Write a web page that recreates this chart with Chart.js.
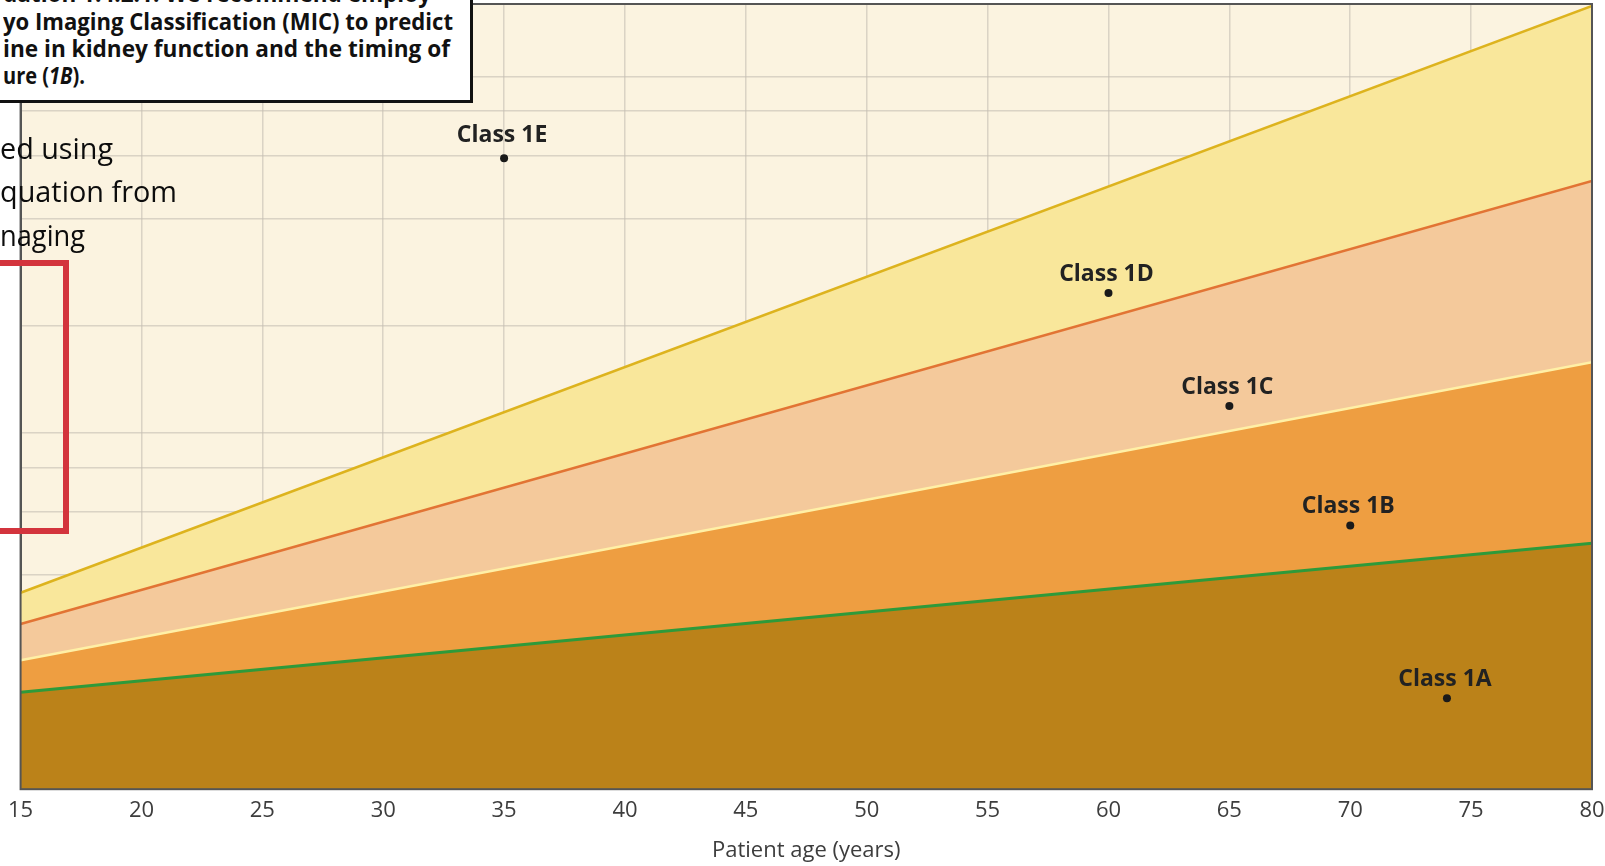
<!DOCTYPE html>
<html>
<head>
<meta charset="utf-8">
<script src="https://cdn.jsdelivr.net/npm/chart.js@4.4.1/dist/chart.umd.min.js"></script>
<style>
  body { margin: 0; background: #fff; overflow: hidden; }
  #wrap { position: relative; width: 1605px; height: 866px; overflow: hidden; }
  #chart { position: absolute; left: 0; top: 0; }
  .rec-box {
    position: absolute; left: -4px; top: -4px; width: 477px; height: 107px;
    background: #fff; border: 3px solid #111; box-sizing: border-box; overflow: hidden;
  }
  .rec-line {
    position: absolute; left: 4px; white-space: nowrap; transform-origin: 0 0;
    font-family: "Open Sans", sans-serif; font-weight: 700; font-size: 23.5px; line-height: 27px; color: #111;
  }
  .slide-line {
    position: absolute; left: 0; white-space: nowrap; transform-origin: 0 0;
    font-family: "Open Sans", sans-serif; font-size: 30px; line-height: 44px; color: #0c0c0c;
  }
  .red-frame {
    position: absolute; left: -10px; top: 260px; width: 79px; height: 274px;
    border: 6px solid #d3343d; box-sizing: border-box;
  }
</style>
</head>
<body>
<div id="wrap">
  <canvas id="chart" width="1625" height="866"></canvas>

  <div class="rec-box">
    <div class="rec-line" style="top:-19px" data-w="428">dation 1.4.2.1: We recommend employ</div>
    <div class="rec-line" style="top:9px" data-w="450">yo Imaging Classification (MIC) to predict</div>
    <div class="rec-line" style="top:36px" data-w="447">ine in kidney function and the timing of</div>
    <div class="rec-line" style="top:63px" data-w="82">ure (<i>1B</i>).</div>
  </div>

  <div class="slide-line" style="top:126px" data-w="113">ed using</div>
  <div class="slide-line" style="top:169px" data-w="177">quation from</div>
  <div class="slide-line" style="top:213px" data-w="85">naging</div>

  <div class="red-frame"></div>
</div>

<script>
// age range of the boundary lines
const ages = [15, 80];
// ht-TKV (mL/m) at age 15 and 80 for each class boundary
const limit1A = [187, 490];
const limit1B = [230, 1580];
const limit1C = [291, 5100];
const limit1D = [356, 15800];

const classNames = ['Class 1E', 'Class 1D', 'Class 1C', 'Class 1B', 'Class 1A'];
const classAges = [35, 60, 65, 70, 74];
const classTkv = [5900, 2470, 1190, 550, 180];

const ageTicks = [15, 20, 25, 30, 35, 40, 45, 50, 55, 60, 65, 70, 75, 80];
const tkvGrid = [100, 200, 400, 600, 800, 1000, 2000, 4000, 6000, 8000, 10000];

function toPoints(vals) {
  return ages.map((a, i) => ({ x: a, y: vals[i] }));
}

const plotBackground = {
  id: 'plotBackground',
  beforeDraw(chart) {
    const { ctx, chartArea: a } = chart;
    ctx.save();
    ctx.fillStyle = '#fbf3e0';
    ctx.fillRect(a.left, a.top, a.right - a.left, a.bottom - a.top);
    ctx.restore();
  },
  afterDraw(chart) {
    const { ctx, chartArea: a } = chart;
    ctx.save();
    ctx.strokeStyle = '#555';
    ctx.lineWidth = 2;
    ctx.strokeRect(a.left, a.top, a.right - a.left, a.bottom - a.top);
    ctx.restore();
  }
};

// how far each label's baseline sits above its dot
const labelLift = [16, 12, 12, 12, 12];

const classLabels = {
  id: 'classLabels',
  afterDraw(chart) {
    const { ctx } = chart;
    const meta = chart.getDatasetMeta(4);
    ctx.save();
    ctx.font = 'bold 23px "Open Sans", sans-serif';
    ctx.fillStyle = '#222';
    ctx.textAlign = 'center';
    ctx.textBaseline = 'alphabetic';
    meta.data.forEach((pt, i) => {
      ctx.fillText(classNames[i], pt.x - 2, pt.y - labelLift[i]);
    });
    ctx.restore();
  }
};

const ctx = document.getElementById('chart').getContext('2d');
new Chart(ctx, {
  type: 'line',
  data: {
    datasets: [
      { data: toPoints(limit1A), borderColor: '#2e9a3a', borderWidth: 3, backgroundColor: '#bb8219', fill: 'start', pointRadius: 0 },
      { data: toPoints(limit1B), borderColor: '#fff0a6', borderWidth: 2.5, backgroundColor: '#ee9e41', fill: '-1', pointRadius: 0 },
      { data: toPoints(limit1C), borderColor: '#e27434', borderWidth: 2.5, backgroundColor: '#f4c99b', fill: '-1', pointRadius: 0 },
      { data: toPoints(limit1D), borderColor: '#ddb31e', borderWidth: 2.5, backgroundColor: '#f9e79b', fill: '-1', pointRadius: 0 },
      {
        data: classAges.map((a, i) => ({ x: a, y: classTkv[i] })),
        order: -1, showLine: false, fill: false,
        pointRadius: 4, pointBackgroundColor: '#1a1a1a', pointBorderWidth: 0
      }
    ]
  },
  options: {
    responsive: false,
    animation: false,
    devicePixelRatio: 1,
    layout: { padding: { left: 20, right: 33, top: 4, bottom: 0 } },
    plugins: { legend: { display: false }, tooltip: { enabled: false } },
    scales: {
      x: {
        type: 'linear', min: 15, max: 80, z: 1,
        afterBuildTicks: scale => { scale.ticks = ageTicks.map(v => ({ value: v })); },
        grid: { color: 'rgba(196,190,178,0.6)', lineWidth: 1.5, drawTicks: false },
        border: { color: '#555', width: 2 },
        ticks: { color: '#3d3d3d', padding: 8, font: { family: 'Open Sans', size: 22 } },
        title: {
          display: true, text: 'Patient age (years)', color: '#3d3d3d',
          font: { family: 'Open Sans', size: 22 }, padding: { top: 6, bottom: 2 }
        }
      },
      y: {
        type: 'logarithmic', min: 100, max: 16000, z: 1,
        afterBuildTicks: scale => { scale.ticks = tkvGrid.map(v => ({ value: v })); },
        grid: { color: 'rgba(196,190,178,0.6)', lineWidth: 1.5, drawTicks: false },
        border: { color: '#555', width: 2 },
        ticks: { display: false }
      }
    }
  },
  plugins: [plotBackground, classLabels]
});

document.querySelectorAll('[data-w]').forEach(el => {
  el.style.display = 'inline-block';
  const w = el.getBoundingClientRect().width;
  el.style.transform = 'scaleX(' + (parseFloat(el.dataset.w) / w) + ')';
});
</script>
</body>
</html>
